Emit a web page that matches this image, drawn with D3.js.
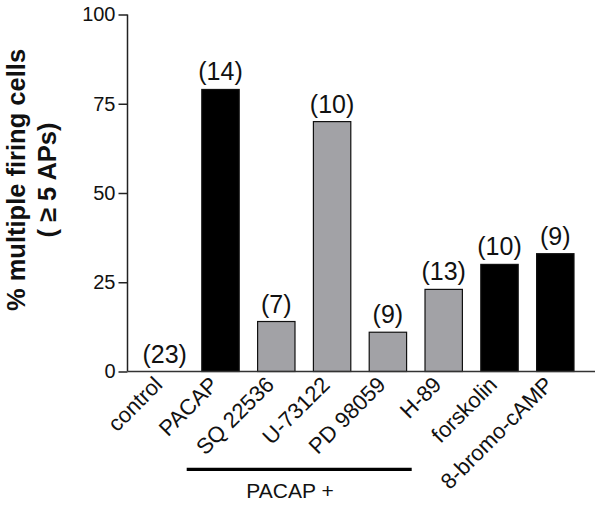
<!DOCTYPE html>
<html><head><meta charset="utf-8">
<script src="https://cdn.jsdelivr.net/npm/d3@7"></script>
<style>body{margin:0;background:#fff}svg{display:block}text{font-family:"Liberation Sans",Arial,sans-serif}</style>
</head><body><svg id="c" width="602" height="506"></svg>
<script>
const categories = ["control","PACAP","SQ 22536","U-73122","PD 98059","H-89","forskolin","8-bromo-cAMP"];
const values = [0, 79, 14, 70, 11, 23, 30, 33];
const counts = ["(23)","(14)","(7)","(10)","(9)","(13)","(10)","(9)"];
const groups = ["none","black","gray","gray","gray","gray","black","black"];
const yTicks = [0,25,50,75,100];
const bracketLabel = "PACAP +";

const svg = d3.select("#c");
const x = d3.scaleBand().domain(categories).range([136.8,583.2]).paddingInner(0.33).paddingOuter(0.165);
const y = d3.scaleLinear().domain([0,100]).range([371.5,14.5]);
const fill = {none:"none", black:"#000", gray:"#a2a2a6"};

// bars
svg.append("g").selectAll("rect").data(categories).join("rect")
  .attr("x", d=>x(d)).attr("width", x.bandwidth())
  .attr("y", (d,i)=>y(values[i])).attr("height",(d,i)=>y(0)-y(values[i]))
  .attr("fill",(d,i)=>fill[groups[i]]).attr("stroke",(d,i)=>values[i]>0?"#111":"none").attr("stroke-width",1.2);

// count labels
svg.append("g").selectAll("text").data(categories).join("text")
  .attr("x", d=>x(d)+x.bandwidth()/2).attr("y",(d,i)=>y(values[i])-9)
  .attr("text-anchor","middle").attr("font-size",25).attr("fill","#111")
  .text((d,i)=>counts[i]);

// y axis
const ya = svg.append("g").attr("transform","translate(127.5,0)")
  .call(d3.axisLeft(y).tickValues(yTicks).tickSize(9).tickPadding(3));
ya.select(".domain").attr("stroke","#222").attr("stroke-width",1.5).attr("d","M0,"+y(100)+"V"+y(0));
ya.selectAll(".tick line").attr("stroke","#222").attr("stroke-width",1.5);
ya.selectAll(".tick text").attr("font-size",20).attr("fill","#111").attr("font-family","Liberation Sans, Arial, sans-serif");

// x axis line
svg.append("line").attr("x1",127.5).attr("x2",595).attr("y1",y(0)).attr("y2",y(0))
  .attr("stroke","#333").attr("stroke-width",1.6);

// x labels
svg.append("g").selectAll("text").data(categories).join("text")
  .attr("transform", d=>`translate(${x(d)+x.bandwidth()/2-1},386) rotate(-45)`)
  .attr("text-anchor","end").attr("font-size",22).attr("fill","#111").text(d=>d);

// bracket
svg.append("line").attr("x1",186.7).attr("x2",411.7).attr("y1",469.3).attr("y2",469.3)
  .attr("stroke","#000").attr("stroke-width",3.2);
svg.append("text").attr("x",290).attr("y",498.3).attr("text-anchor","middle")
  .attr("font-size",21).attr("fill","#111").text(bracketLabel);

// y title
const t = svg.append("text").attr("transform","translate(24.5,180) rotate(-90)")
  .attr("text-anchor","middle").attr("font-size",25.5).attr("font-weight","bold").attr("fill","#111");
t.append("tspan").attr("x",0).attr("y",0).text("% multiple firing cells");
t.append("tspan").attr("x",0).attr("y",31).text("( \u2265 5 APs)");
</script></body></html>
